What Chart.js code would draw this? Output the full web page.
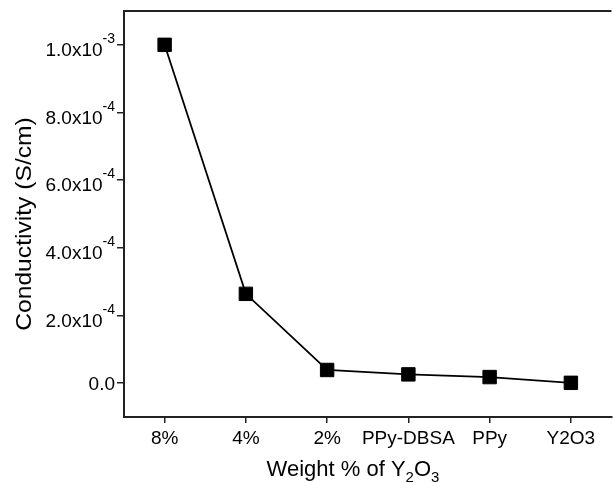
<!DOCTYPE html>
<html>
<head>
<meta charset="utf-8">
<script src="https://cdn.jsdelivr.net/npm/chart.js@4"></script>
<style>
  html, body { margin: 0; padding: 0; background: #fff; overflow: hidden; }
  #wrap { width: 622px; height: 483px; }
</style>
</head>
<body>
<div id="wrap"><canvas id="condChart" width="622" height="483"></canvas></div>
<script>
// data
const categories = ["8%", "4%", "2%", "PPy-DBSA", "PPy", "Y2O3"];
const conductivity = [1.0e-3, 2.64e-4, 3.9e-5, 2.6e-5, 1.8e-5, 1.0e-6];

// y axis ticks (mantissa x 10^exp)
const yTicks = [0, 2e-4, 4e-4, 6e-4, 8e-4, 1e-3];
const yTickMant = ["0.0", "2.0", "4.0", "6.0", "8.0", "1.0"];
const yTickExp = [null, "-4", "-4", "-4", "-4", "-3"];

const FONT = "'Liberation Sans', Arial, sans-serif";
const INK = "#000";

// draws the top frame, y tick labels with superscripts and both axis titles
const textPlugin = {
  id: "textPlugin",
  afterDraw(chart) {
    const ctx = chart.ctx;
    const area = chart.chartArea;
    const y = chart.scales.y;
    ctx.save();

    // top frame line
    ctx.strokeStyle = "#222";
    ctx.lineWidth = 2;
    ctx.beginPath();
    ctx.moveTo(area.left - 1, area.top);
    ctx.lineTo(area.right, area.top);
    ctx.stroke();

    ctx.fillStyle = INK;
    ctx.textBaseline = "alphabetic";

    // y tick labels
    const rightEdge = area.left - 9;
    yTicks.forEach((v, i) => {
      const py = y.getPixelForValue(v);
      if (yTickExp[i] === null) {
        ctx.font = "19px " + FONT;
        ctx.textAlign = "right";
        ctx.fillText(yTickMant[i], rightEdge, py + 7);
      } else {
        ctx.font = "14px " + FONT;
        ctx.textAlign = "right";
        ctx.fillText(yTickExp[i], rightEdge, py - 2);
        const ew = ctx.measureText(yTickExp[i]).width;
        ctx.font = "19px " + FONT;
        ctx.fillText(yTickMant[i] + "x10", rightEdge - ew, py + 11);
      }
    });

    // y axis title
    ctx.save();
    ctx.translate(31, (area.top + area.bottom) / 2 + 10);
    ctx.rotate(-Math.PI / 2);
    ctx.font = "22px " + FONT;
    ctx.textAlign = "center";
    ctx.scale(1.12, 1);
    ctx.fillText("Conductivity (S/cm)", 0, 0);
    ctx.restore();

    // x axis title: Weight % of Y2O3 with subscripts
    const parts = [
      ["Weight % of Y", 22, 0],
      ["2", 15, 6],
      ["O", 22, 0],
      ["3", 15, 6]
    ];
    let total = 0;
    parts.forEach(p => {
      ctx.font = p[1] + "px " + FONT;
      total += ctx.measureText(p[0]).width;
    });
    let px = 353 - total / 2;
    const base = 476;
    ctx.textAlign = "left";
    parts.forEach(p => {
      ctx.font = p[1] + "px " + FONT;
      ctx.fillText(p[0], px, base + p[2]);
      px += ctx.measureText(p[0]).width;
    });

    ctx.restore();
  }
};

const ctx = document.getElementById("condChart").getContext("2d");
new Chart(ctx, {
  type: "line",
  data: {
    labels: categories,
    datasets: [{
      label: "Conductivity",
      data: conductivity,
      borderColor: "#000",
      backgroundColor: "#000",
      borderWidth: 1.8,
      pointStyle: "rect",
      pointRadius: 9.5,
      pointBorderWidth: 1,
      pointBackgroundColor: "#000",
      pointBorderColor: "#000",
      tension: 0
    }]
  },
  options: {
    responsive: false,
    animation: false,
    layout: { padding: { top: 11, right: 1, left: 0, bottom: 0 } },
    plugins: {
      legend: { display: false },
      tooltip: { enabled: false }
    },
    scales: {
      x: {
        type: "category",
        offset: true,
        grid: {
          display: true,
          drawOnChartArea: false,
          drawTicks: true,
          tickLength: 6,
          color: "#222",
          lineWidth: 1.5,
          offset: false
        },
        border: { display: true, color: "#222", width: 2 },
        ticks: {
          color: INK,
          font: { family: FONT, size: 19 },
          padding: 4,
          maxRotation: 0,
          autoSkip: false
        },
        afterFit(scale) { scale.height = 66; }
      },
      y: {
        min: -1e-4,
        max: 1.1e-3,
        grid: {
          display: true,
          drawOnChartArea: false,
          drawTicks: true,
          tickLength: 7,
          color: "#222",
          lineWidth: 1.5
        },
        border: { display: true, color: "#222", width: 2 },
        ticks: { display: false },
        afterBuildTicks(scale) {
          scale.ticks = yTicks.map(v => ({ value: v }));
        },
        afterFit(scale) { scale.width = 124; }
      }
    }
  },
  plugins: [textPlugin]
});
</script>
</body>
</html>
